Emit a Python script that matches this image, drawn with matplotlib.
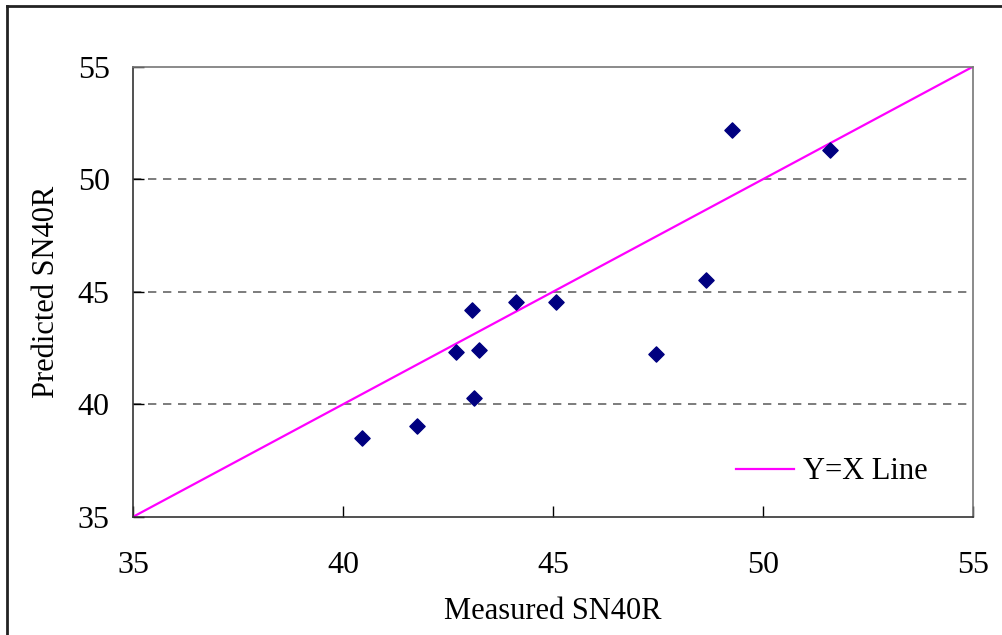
import matplotlib.pyplot as plt
from matplotlib.lines import Line2D

measured = [40.45, 41.75, 42.68, 43.06, 43.11, 43.23, 44.11, 45.08, 47.46, 48.65, 49.27, 51.6]
predicted = [38.5, 39.05, 42.33, 44.2, 40.29, 42.42, 44.56, 44.56, 42.24, 45.53, 52.2, 51.31]
line_x = [35, 55]
line_y = [35, 55]
ticks = [35, 40, 45, 50, 55]

plt.rcParams['font.family'] = ['Liberation Serif', 'DejaVu Serif']

fig = plt.figure(figsize=(10.02, 6.35), dpi=100)
ax = fig.add_axes([0.133, 0.1863, 0.838, 0.7087])

ax.plot(line_x, line_y, color='#ff00ff', linewidth=1.6, label='Y=X Line', zorder=2)
ax.scatter(measured, predicted, marker='D', s=60, color='#000080', zorder=3)

ax.set_xlim(35, 55)
ax.set_ylim(35, 55)
ax.set_xticks(ticks)
ax.set_yticks(ticks)
for y in ticks[1:-1]:
    ax.axhline(y, color='#666666', linestyle=(0, (5, 4)), linewidth=1.2, zorder=1)

ax.tick_params(direction='in', length=8, width=1, labelsize=23, colors='black')
ax.tick_params(axis='x', pad=25)
ax.tick_params(axis='y', pad=17)
for s in ax.spines.values():
    s.set_color('#333333')
    s.set_linewidth(1.2)
ax.spines['top'].set_color('#777777')
ax.spines['right'].set_color('#777777')

ax.set_xlabel('Measured SN40R', fontsize=22, labelpad=12)
ax.set_ylabel('Predicted SN40R', fontsize=22, labelpad=12)

ax.legend(loc='center right', bbox_to_anchor=(0.979, 0.10), frameon=False,
          fontsize=22, handlelength=1.9, handletextpad=0.3)

# outer chart border (left and top only visible)
W, H = 1002, 635
fig.add_artist(Line2D([7 / W, 7 / W], [0, 1 - 6 / H], color='#222222', linewidth=2, transform=fig.transFigure))
fig.add_artist(Line2D([7 / W, 1], [1 - 6 / H, 1 - 6 / H], color='#222222', linewidth=2, transform=fig.transFigure))

fig.savefig('out.png', dpi=100)
